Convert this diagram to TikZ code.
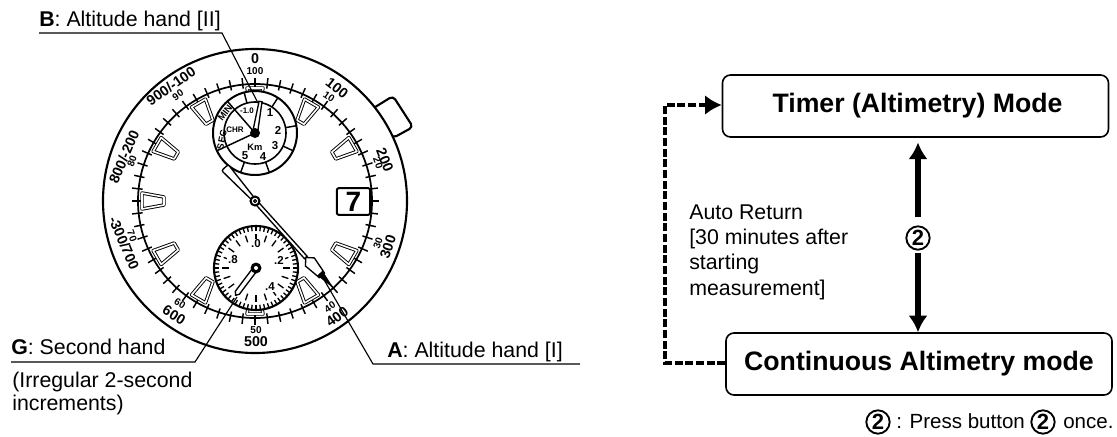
\documentclass[tikz,border=0pt]{standalone}
\usepackage{fontspec}
\setmainfont{Liberation Sans}
\usetikzlibrary{arrows.meta}
\tikzset{
    anntext/.style={inner sep=0pt, anchor=base west, font=\fontsize{16}{19}\selectfont},
    keytext/.style={inner sep=0pt, anchor=base west, font=\fontsize{15.4}{19}\selectfont},
    leader/.style={line width=.85pt},
    modebox/.style={draw, line width=1.2pt, rounded corners=6pt, minimum width=289.5pt, minimum height=46.5pt, inner sep=0pt, font=\fontsize{20}{24}\selectfont\bfseries},
    bignum/.style={draw, circle, line width=1.4pt, minimum size=17.5pt, inner sep=0pt, font=\fontsize{16.5}{16}\selectfont\bfseries},
    outerlbl/.style={inner sep=0pt, font=\fontsize{10.7}{11}\selectfont\bfseries},
    innerlbl/.style={inner sep=0pt, font=\fontsize{7.5}{8}\selectfont\bfseries},
    subnum/.style={inner sep=0pt, font=\fontsize{8.6}{9}\selectfont\bfseries},
    sublbl/.style={inner sep=0pt, font=\fontsize{6}{7}\selectfont\bfseries},
    ringlbl/.style={inner sep=0pt, font=\fontsize{7}{8}\selectfont\bfseries},
    modearrow/.style={line width=4.8pt, {Latex[length=12.5pt,width=14.5pt]}-},
    returnline/.style={line width=3.6pt, dash pattern=on 6pt off 2pt, -{Latex[length=12.5pt,width=15pt]}}
}
\begin{document}
\begin{tikzpicture}[x=.75pt, y=-.75pt]
    \useasboundingbox (0,0) rectangle (1117,436);

    %Crown
    \draw[line width=1.6pt, rounded corners=3pt, fill=white](372,109)--(393,96)--(413,127)--(393,138)--cycle;

    %Outer ring
    \draw[line width=1.6pt, fill=white](255,201) circle (152);

    %Scale ring
    \draw[line width=1.3pt](255,201) circle (117);
    \foreach \a in {0,6,...,354}{
        \draw[line width=1.1pt, shift={(255,201)}](\a-90:113)--(\a-90:123.5);
    }

    %Hour marks
    \foreach \a in {0,30,60,120,150,180,210,240,270,300,330}{
        \begin{scope}[shift={(255,201)}, rotate=-\a]
            \draw[line width=.7pt, double, double distance=1.2pt, line join=round, fill=white](-4,-91)--(4,-91)--(8,-113)--(-8,-113)--cycle;
        \end{scope}
    }

    %Scale numbers
    \node[outerlbl] (out0) at (255,59) {0};
    \node[outerlbl, rotate=-38] (out100) at (337,88) {100};
    \node[outerlbl, rotate=-68] (out200) at (385,160) {200};
    \node[outerlbl, rotate=72] (out300) at (388,247) {300};
    \node[outerlbl, rotate=36] (out400) at (337,317) {400};
    \node[outerlbl] (out500) at (256,342) {500};
    \node[outerlbl, rotate=-32] (out600) at (174,315) {600};
    \node[outerlbl, rotate=-67] (out700) at (124,243) {-300/700};
    \node[outerlbl, rotate=67] (out800) at (124,157) {800/-200};
    \node[outerlbl, rotate=35] (out900) at (171,86) {900/-100};

    \node[innerlbl] (in0) at (255,71) {100};
    \node[innerlbl, rotate=-35] (in10) at (329,97) {10};
    \node[innerlbl, rotate=-70] (in20) at (378,163) {20};
    \node[innerlbl, rotate=70] (in30) at (378,243) {30};
    \node[innerlbl, rotate=35] (in40) at (330,307) {40};
    \node[innerlbl] (in50) at (256,330) {50};
    \node[innerlbl, rotate=-32] (in60) at (180,304) {60};
    \node[innerlbl, rotate=-70] (in70) at (132,236) {70};
    \node[innerlbl, rotate=70] (in80) at (132,161) {80};
    \node[innerlbl, rotate=35] (in90) at (178,95) {90};

    %Date window
    \node[draw, line width=1.5pt, rounded corners=1.5pt, fill=white, minimum width=25pt, minimum height=20pt, inner sep=0pt, font=\fontsize{21}{21}\selectfont\bfseries] (datewin) at (353.5,201.5) {7};

    %Upper subdial
    \draw[line width=1.5pt, fill=white](255,133) circle (42);
    \draw[line width=1.2pt](255,133) circle (31);
    \foreach \a in {33,80,115,160,200,345}{
        \draw[line width=1.1pt, shift={(255,133)}](\a-90:31)--(\a-90:42);
    }
    \foreach \a in {245,319}{
        \draw[line width=1.1pt, shift={(255,133)}](0,0)--(\a-90:42);
    }
    \node[subnum] (km1) at (270,113) {1};
    \node[subnum] (km2) at (278,130) {2};
    \node[subnum] (km3) at (275,146) {3};
    \node[subnum] (km4) at (263,157) {4};
    \node[subnum] (km5) at (245,156) {5};
    \node[sublbl, fill=white] (kmzero) at (247,111) {-1.0};
    \node[sublbl] (chr) at (235,130) {CHR};
    \node[ringlbl] (km) at (255,147) {Km};
    \node[ringlbl, rotate=52] (min) at (225,113) {MIN};
    \node[ringlbl, rotate=78] (sec) at (222,140) {SEC};
    \begin{scope}[shift={(255,133)}, rotate=-10]
        \draw[line width=1pt, fill=white](-2.5,0)--(-1.5,-32)--(1.5,-32)--(2.5,0)--cycle;
    \end{scope}
    \fill (255,133) circle (5);

    %Lower subdial
    \draw[line width=1.6pt, fill=white](256,268) circle (42);
    \foreach \a in {0,6,...,354}{
        \draw[line width=1pt, shift={(256,268)}](\a-90:37)--(\a-90:42);
    }
    \foreach \a in {0,18,...,342}{
        \draw[line width=1pt, shift={(256,268)}](\a-90:27)--(\a-90:34);
    }
    \node[subnum, fill=white, inner sep=1pt] (sec0) at (256,244) {.0};
    \node[subnum, fill=white, inner sep=1pt] (sec2) at (279,260) {.2};
    \node[subnum, fill=white, inner sep=1pt] (sec4) at (270,287) {.4};
    \node[subnum, fill=white, inner sep=1pt] (sec8) at (233,260) {.8};
    \begin{scope}[shift={(256,268)}, rotate=-217]
        \draw[line width=1pt, fill=white](-2.5,0)--(-2.5,-31)--(0,-34)--(2.5,-31)--(2.5,0)--cycle;
    \end{scope}
    \fill (256,268) circle (5.5);
    \fill[white] (256,268) circle (2);

    %Main hand
    \begin{scope}[shift={(255,201)}, rotate=-138]
        \draw[line width=1pt, fill=white, rounded corners=1.5pt](-1.5,0)--(-4.5,45)--(4.5,45)--(1.5,0)--cycle;
        \draw[line width=1pt, fill=white](-1.8,0)--(-1.8,-76)--(1.8,-76)--(1.8,0)--cycle;
        \draw[line width=1pt, fill=white](0,-76)--(-6,-82)--(-3.5,-100)--(3.5,-100)--(6,-82)--cycle;
        \fill (-3.5,-97)--(0,-118)--(3.5,-97)--cycle;
    \end{scope}
    \draw[line width=1.5pt, fill=white](255,201) circle (4.5);
    \draw[line width=.8pt](255,201) circle (1.5);

    %Annotations
    \node[anntext] (altB) at (39,26) {\textbf{B}: Altitude hand [II]};
    \coordinate (altBa) at (39,33);
    \coordinate (altBb) at (222,33);
    \coordinate (altBtip) at (258,103);
    \draw[leader](altBa)--(altBb)--(altBtip);

    \node[anntext] (altA) at (387,357) {\textbf{A}: Altitude hand [I]};
    \coordinate (altAa) at (580,364);
    \coordinate (altAb) at (373,364);
    \coordinate (altAtip) at (323,278);
    \draw[leader](altAa)--(altAb)--(altAtip);

    \node[anntext] (secG) at (11,354) {\textbf{G}: Second hand};
    \coordinate (secGa) at (11,362);
    \coordinate (secGb) at (195,362);
    \coordinate (secGtip) at (237,297);
    \draw[leader](secGa)--(secGb)--(secGtip);
    \node[anntext] (secGnoteA) at (12,387) {(Irregular 2-second};
    \node[anntext] (secGnoteB) at (12,410) {increments)};

    %Mode chart
    \node[modebox] (timer) at (915.5,106) {\hspace*{3pt}Timer (Altimetry) Mode};
    \node[modebox] (cont) at (919,364) {Continuous Altimetry mode};
    \node[bignum] (press) at (918,238) {2};
    \draw[modearrow, shorten <=3.5pt, shorten >=6pt] (press.north |- timer.south)--(press.north);
    \draw[modearrow, shorten >=2pt] (press.south |- cont.north)--(press.south);

    \coordinate (retA) at (665,363);
    \coordinate (retB) at (665,105);
    \draw[returnline] (cont.west |- retA)--(retA)--(retB)--(retB -| timer.west);
    \node[anntext, anchor=west, align=left] (autoret) at (689,252) {Auto Return\\{}[30 minutes after\\starting\\measurement]};

    %Footnote
    \node[bignum] (keyA) at (878,422) {2};
    \node[keytext] (keytxt) at (896,428) {: Press button};
    \node[bignum] (keyB) at (1043,422) {2};
    \node[keytext] (keyonce) at (1063,428) {once.};

\end{tikzpicture}
\end{document}
